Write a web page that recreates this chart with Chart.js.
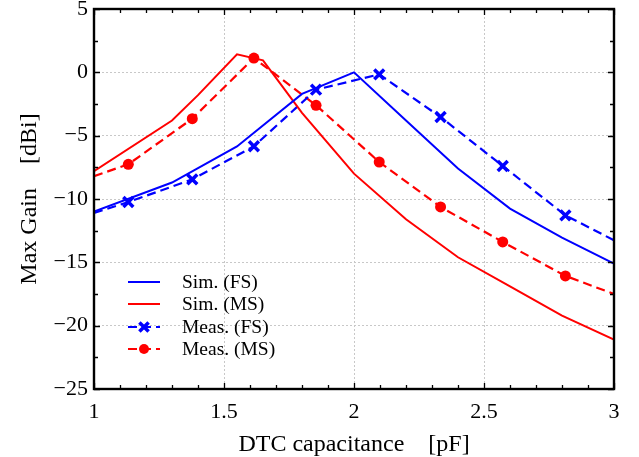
<!DOCTYPE html>
<html>
<head>
<meta charset="utf-8">
<script src="https://cdn.jsdelivr.net/npm/chart.js@4.4.1/dist/chart.umd.min.js"></script>
<style>
  html, body { margin: 0; padding: 0; background: #fff; }
  #wrap { width: 639px; height: 457px; }
</style>
</head>
<body>
<div id="wrap"><canvas id="myChart" width="639" height="457"></canvas></div>
<script>
// data
const simFsX = [1.0, 1.3, 1.55, 1.8, 2.0, 2.2, 2.4, 2.6, 2.8, 3.0];
const simFsY = [-11.0, -8.7, -5.85, -1.7, 0.0, -3.8, -7.6, -10.76, -13.05, -15.1];

const simMsX = [1.0, 1.3, 1.4, 1.55, 1.65, 1.8, 2.0, 2.2, 2.4, 2.6, 2.8, 3.0];
const simMsY = [-7.8, -3.8, -1.8, 1.42, 0.95, -3.2, -8.0, -11.6, -14.6, -16.9, -19.2, -21.1];

const measX = [1.0, 1.132, 1.378, 1.615, 1.854, 2.097, 2.333, 2.572, 2.813, 3.0];
const measFsY = [-11.1, -10.24, -8.45, -5.84, -1.37, -0.16, -3.53, -7.39, -11.29, -13.26];
const measMsY = [-8.2, -7.26, -3.66, 1.13, -2.6, -7.08, -10.63, -13.39, -16.07, -17.5];

const xTicks = [1, 1.5, 2, 2.5, 3];
const yTicks = [-25, -20, -15, -10, -5, 0, 5];
const labels = ['Sim. (FS)', 'Sim. (MS)', 'Meas. (FS)', 'Meas. (MS)'];

const FONT = "'Liberation Serif', 'Times New Roman', serif";

function pts(xs, ys) {
	return xs.map((x, i) => ({ x: x, y: ys[i] }));
}
// markers only on the inner points, not at the ends
function markerRadius(xs, r) {
	return xs.map((x, i) => (i === 0 || i === xs.length - 1) ? 0 : r);
}

const data = {
	datasets: [{
		label: labels[0],
		data: pts(simFsX, simFsY),
		borderColor: '#0000ff',
		borderWidth: 2,
		pointRadius: 0
	}, {
		label: labels[1],
		data: pts(simMsX, simMsY),
		borderColor: '#ff0000',
		borderWidth: 2,
		pointRadius: 0
	}, {
		label: labels[2],
		data: pts(measX, measFsY),
		borderColor: '#0000ff',
		backgroundColor: '#0000ff',
		borderWidth: 2.2,
		borderDash: [9, 5],
		pointStyle: 'crossRot',
		pointRadius: markerRadius(measX, 7),
		pointBorderWidth: 3.5,
		pointBorderColor: '#0000ff'
	}, {
		label: labels[3],
		data: pts(measX, measMsY),
		borderColor: '#ff0000',
		backgroundColor: '#ff0000',
		borderWidth: 2.2,
		borderDash: [9, 5],
		pointStyle: 'circle',
		pointRadius: markerRadius(measX, 5.5),
		pointBorderWidth: 0,
		pointBackgroundColor: '#ff0000'
	}]
};

// frame, inward ticks and the legend
const decor = {
	id: 'decor',
	afterDraw(chart) {
		const ctx = chart.ctx;
		const a = chart.chartArea;
		const xs = chart.scales.x, ys = chart.scales.y;
		ctx.save();
		ctx.strokeStyle = '#000';
		ctx.lineWidth = 1.3;
		ctx.setLineDash([]);
		// x ticks, minor every 0.1
		for (let v = 10; v <= 30; v++) {
			const px = Math.round(xs.getPixelForValue(v / 10)) + 0.5;
			const len = (v % 5 === 0) ? 6 : 4;
			ctx.beginPath();
			ctx.moveTo(px, a.bottom); ctx.lineTo(px, a.bottom - len);
			ctx.moveTo(px, a.top); ctx.lineTo(px, a.top + len);
			ctx.stroke();
		}
		// y ticks, minor every 2.5
		for (let v = -25; v <= 5; v += 2.5) {
			const py = Math.round(ys.getPixelForValue(v)) + 0.5;
			const len = (v % 5 === 0) ? 6 : 4;
			ctx.beginPath();
			ctx.moveTo(a.left, py); ctx.lineTo(a.left + len, py);
			ctx.moveTo(a.right, py); ctx.lineTo(a.right - len, py);
			ctx.stroke();
		}
		ctx.lineWidth = 2.4;
		ctx.strokeRect(a.left, a.top, a.right - a.left, a.bottom - a.top);

		// legend
		const rowY = [282, 304, 327, 349];
		ctx.font = '19.5px ' + FONT;
		ctx.textBaseline = 'middle';
		ctx.textAlign = 'left';
		chart.data.datasets.forEach((ds, i) => {
			const y = rowY[i];
			ctx.strokeStyle = ds.borderColor;
			ctx.lineWidth = ds.borderWidth;
			ctx.setLineDash(ds.borderDash || []);
			ctx.beginPath();
			ctx.moveTo(128, y); ctx.lineTo(160, y);
			ctx.stroke();
			ctx.setLineDash([]);
			if (ds.pointStyle) {
				ctx.fillStyle = ds.borderColor;
				ctx.strokeStyle = ds.borderColor;
				ctx.lineWidth = ds.pointBorderWidth || 1;
				Chart.helpers.drawPoint(ctx, {
					pointStyle: ds.pointStyle,
					radius: Math.max(...ds.pointRadius) - 0.5,
					borderWidth: ds.pointBorderWidth,
					rotation: 0
				}, 144, y);
			}
			ctx.fillStyle = '#000';
			ctx.fillText(ds.label, 182, y + 1);
		});
		ctx.restore();
	}
};

const config = {
	type: 'line',
	data,
	options: {
		responsive: false,
		animation: false,
		layout: { padding: { top: 9, right: 25, left: 0, bottom: 0 } },
		plugins: { legend: { display: false }, tooltip: { enabled: false } },
		scales: {
			x: {
				type: 'linear',
				min: 1, max: 3,
				afterBuildTicks: s => { s.ticks = xTicks.map(v => ({ value: v })); },
				afterFit: s => { s.height = 68; s.paddingLeft = 0; s.paddingRight = 0; },
				ticks: {
					color: '#000',
					font: { family: FONT, size: 22 },
					padding: 10,
					maxRotation: 0,
					callback: v => String(v)
				},
				grid: { color: '#c8c8c8', lineWidth: 1, drawTicks: false },
				border: { display: false, dash: [2, 2] },
				title: {
					display: true,
					text: 'DTC capacitance    [pF]',
					color: '#000',
					font: { family: FONT, size: 24 },
					padding: { top: 0, bottom: -2 }
				}
			},
			y: {
				min: -25, max: 5,
				afterBuildTicks: s => { s.ticks = yTicks.map(v => ({ value: v })); },
				afterFit: s => { s.width = 94; s.paddingTop = 0; s.paddingBottom = 0; },
				ticks: {
					color: '#000',
					font: { family: FONT, size: 22 },
					padding: 6,
					callback: v => String(v).replace('-', '\u2212')
				},
				grid: { color: '#c8c8c8', lineWidth: 1, drawTicks: false },
				border: { display: false, dash: [2, 2] },
				title: {
					display: true,
					text: 'Max Gain    [dBi]',
					color: '#000',
					font: { family: FONT, size: 24 },
					padding: { top: 15, bottom: 0 }
				}
			}
		}
	},
	plugins: [decor]
};

const myChart = new Chart(document.getElementById('myChart'), config);
</script>
</body>
</html>
